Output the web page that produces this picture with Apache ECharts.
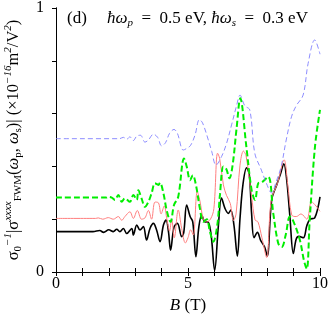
<!DOCTYPE html>
<html><head><meta charset="utf-8">
<script src="https://cdn.jsdelivr.net/npm/echarts@6/dist/echarts.min.js"></script>
<style>html,body{margin:0;padding:0;background:#fff}#c{width:328px;height:316px}</style>
</head><body><div id="c"></div>
<script>
// B (T) and value pairs for each curve
const bBlack = [0,1.4,1.66,1.8,2.0,2.17,2.3,2.42,2.55,2.68,2.87,2.93,3.06,3.18,3.31,3.43,3.56,3.69,3.81,3.94,4.07,4.17,4.26,4.34,4.47,4.6,4.76,4.84,4.95,5.08,5.18,5.30,5.41,5.52,5.64,5.75,5.87,6.01,6.15,6.27,6.4,6.53,6.62,6.74,6.87,6.97,7.08,7.22,7.32,7.41,7.5,7.63,7.75,7.9,8.0,8.17,8.36,8.5,8.63,8.74,8.86,8.99,9.1,9.2,9.37,9.5,9.62,9.8,10];
const vBlack = [0.153,0.153,0.157,0.150,0.16,0.153,0.162,0.153,0.165,0.146,0.165,0.14,0.178,0.159,0.172,0.121,0.165,0.184,0.159,0.115,0.178,0.197,0.153,0.083,0.17,0.184,0.134,0.15,0.254,0.21,0.19,0.058,0.17,0.216,0.19,0.19,0.145,0.006,0.175,0.28,0.241,0.222,0.235,0.178,0.06,0.203,0.33,0.395,0.37,0.22,0.13,0.15,0.12,0.095,0.06,0.273,0.33,0.37,0.41,0.348,0.21,0.07,0.125,0.135,0.13,0.175,0.2,0.205,0.285];

const bRed = [0,1.5,1.6,1.77,1.98,2.17,2.36,2.49,2.61,2.8,2.93,3.08,3.24,3.37,3.5,3.62,3.75,3.88,3.98,4.1,4.2,4.3,4.38,4.48,4.63,4.76,4.9,5.0,5.1,5.2,5.35,5.45,5.58,5.7,5.85,5.98,6.12,6.2,6.34,6.46,6.6,6.72,6.82,6.97,7.1,7.2,7.41,7.54,7.65,7.8,7.98,8.15,8.4,8.64,8.78,8.93,9.1,9.28,9.5,9.68,9.85,10];
const vRed = [0.203,0.203,0.205,0.2,0.206,0.2,0.21,0.196,0.21,0.228,0.203,0.233,0.2,0.205,0.233,0.2,0.265,0.262,0.22,0.25,0.2,0.155,0.2,0.13,0.235,0.165,0.11,0.13,0.16,0.14,0.305,0.27,0.2,0.19,0.2,0.24,0.45,0.43,0.33,0.29,0.26,0.195,0.22,0.405,0.458,0.44,0.285,0.197,0.19,0.13,0.055,0.27,0.34,0.425,0.33,0.216,0.21,0.22,0.2,0.266,0.25,0.23];

const bGreen = [0,1.9,1.98,2.11,2.23,2.36,2.49,2.61,2.8,2.93,3.06,3.12,3.24,3.37,3.5,3.62,3.75,3.88,3.94,4.07,4.19,4.34,4.47,4.63,4.85,4.95,5.08,5.18,5.3,5.45,5.58,5.71,5.83,5.96,6.11,6.21,6.34,6.45,6.57,6.69,6.84,6.98,7.21,7.41,7.54,7.66,7.8,8.04,8.23,8.42,8.55,8.7,8.86,9.0,9.24,9.4,9.5,9.61,9.81,10];
const vGreen = [0.282,0.282,0.285,0.282,0.273,0.292,0.266,0.279,0.266,0.292,0.273,0.31,0.279,0.247,0.266,0.298,0.336,0.33,0.338,0.298,0.235,0.19,0.254,0.285,0.43,0.4,0.348,0.367,0.33,0.241,0.19,0.2,0.153,0.115,0.178,0.292,0.4,0.39,0.355,0.405,0.544,0.658,0.475,0.31,0.273,0.336,0.34,0.361,0.222,0.108,0.095,0.14,0.21,0.19,0.12,0.04,0.012,0.197,0.475,0.614];

const bBlue = [0,2.4,2.55,2.68,2.8,2.93,3.06,3.2,3.37,3.5,3.69,3.85,4.0,4.15,4.3,4.47,4.6,4.82,4.95,5.1,5.27,5.43,5.55,5.77,5.9,6.06,6.27,6.46,6.65,6.84,6.97,7.15,7.34,7.53,7.78,7.97,8.16,8.35,8.53,8.72,8.92,9.1,9.36,9.55,9.8,10];
const vBlue = [0.505,0.505,0.51,0.503,0.512,0.498,0.515,0.518,0.492,0.5,0.522,0.51,0.478,0.49,0.525,0.54,0.525,0.462,0.468,0.48,0.52,0.577,0.565,0.5,0.456,0.405,0.437,0.487,0.557,0.63,0.67,0.63,0.614,0.45,0.386,0.336,0.3,0.345,0.4,0.5,0.588,0.63,0.67,0.79,0.879,0.825];

const xLabels = ['0','5','10'];
const yLabels = ['0','1'];

const pair = (b, v) => b.map((x, i) => [x, v[i]]);
const serif = 'Liberation Serif';
const chart = echarts.init(document.getElementById('c'), null, {renderer: 'canvas'});
const axisLine = {show: true, lineStyle: {color: '#000', width: 1}};
const tick = {show: true, length: 4, inside: false, lineStyle: {color: '#000'}};
const sp = '\u2002';
chart.setOption({
  animation: false,
  grid: {left: 56, right: 8, top: 8, bottom: 44, containLabel: false, outerBoundsMode: 'none'},
  xAxis: [{
    type: 'value', min: 0, max: 10, interval: 1, position: 'bottom',
    axisLine, splitLine: {show: false}, axisTick: tick,
    axisLabel: {margin: 4, fontFamily: serif, fontSize: 16, color: '#000',
      formatter: v => xLabels.includes(String(v)) ? String(v) : ''},
    name: '{i|B} {n|(T)}', nameLocation: 'middle', nameGap: 23,
    nameTextStyle: {fontFamily: serif, fontSize: 17, color: '#000',
      rich: {i: {fontStyle: 'italic', fontFamily: serif, fontSize: 17},
             n: {fontFamily: serif, fontSize: 17}}}
  }, {
    type: 'value', min: 0, max: 10, interval: 1, position: 'top',
    axisLine, splitLine: {show: false}, axisTick: tick,
    axisLabel: {show: false}
  }],
  yAxis: [{
    type: 'value', min: 0, max: 1, interval: 0.2, position: 'left',
    axisLine, splitLine: {show: false}, axisTick: tick,
    axisLabel: {margin: 12, fontFamily: serif, fontSize: 16, color: '#000',
      formatter: v => yLabels.includes(String(v)) ? String(v) : ''},
    name: '{n|σ}{b|0}{t|−1}{n||σ}{t|xxxx}{b|FWM}{n|(}{i|ω}{b|p}{n|, }{i|ω}{b|s}{n|)| (×10}{t|−16}{n|m}{t|2}{n|/V}{t|2}{n|)}',
    nameLocation: 'middle', nameGap: 32, nameRotate: 90,
    nameTextStyle: {fontFamily: serif, fontSize: 16, color: '#000',
      rich: {
        n: {fontFamily: serif, fontSize: 16.5, lineHeight: 21, verticalAlign: 'middle'},
        i: {fontFamily: serif, fontStyle: 'italic', fontSize: 16.5, lineHeight: 21, verticalAlign: 'middle'},
        t: {fontFamily: serif, fontStyle: 'italic', fontSize: 11, lineHeight: 21, verticalAlign: 'top'},
        b: {fontFamily: serif, fontSize: 11, lineHeight: 21, verticalAlign: 'bottom'}
      }}
  }, {
    type: 'value', min: 0, max: 1, interval: 0.2, position: 'right',
    axisLine, splitLine: {show: false}, axisTick: {show: false}, axisLabel: {show: false}
  }],
  graphic: [{
    type: 'text', left: 67, top: 10, z: 100,
    style: {
      text: '{n|(d)}',
      rich: {n: {fontFamily: serif, fontSize: 17, lineHeight: 20, fill: '#000'}}
    }
  }, {
    type: 'text', left: 107, top: 10, z: 100,
    style: {
      text: '{i|ħω}{b|p}{n|' + sp + '=' + sp + '0.5 eV, }{i|ħω}{b|s}{n|' + sp + '=' + sp + '0.3 eV}',
      rich: {
        n: {fontFamily: serif, fontSize: 17, lineHeight: 20, verticalAlign: 'middle', fill: '#000'},
        i: {fontFamily: serif, fontStyle: 'italic', fontSize: 17, lineHeight: 20, verticalAlign: 'middle', fill: '#000'},
        b: {fontFamily: serif, fontStyle: 'italic', fontSize: 11, lineHeight: 20, verticalAlign: 'bottom', fill: '#000'}
      }
    }
  }],
  series: [
    {type: 'line', data: pair(bBlack, vBlack), smooth: 0.35, showSymbol: false,
      lineStyle: {color: '#000', width: 1.6}, z: 3},
    {type: 'line', data: pair(bRed, vRed), smooth: 0.35, showSymbol: false,
      lineStyle: {color: '#ff7f7f', width: 1}, z: 4},
    {type: 'line', data: pair(bGreen, vGreen), smooth: 0.35, showSymbol: false,
      lineStyle: {color: '#00ee00', width: 2, type: [6, 3]}, z: 5},
    {type: 'line', data: pair(bBlue, vBlue), smooth: 0.35, showSymbol: false,
      lineStyle: {color: '#8080ff', width: 0.9, type: [5, 3]}, z: 6}
  ]
});
</script></body></html>
